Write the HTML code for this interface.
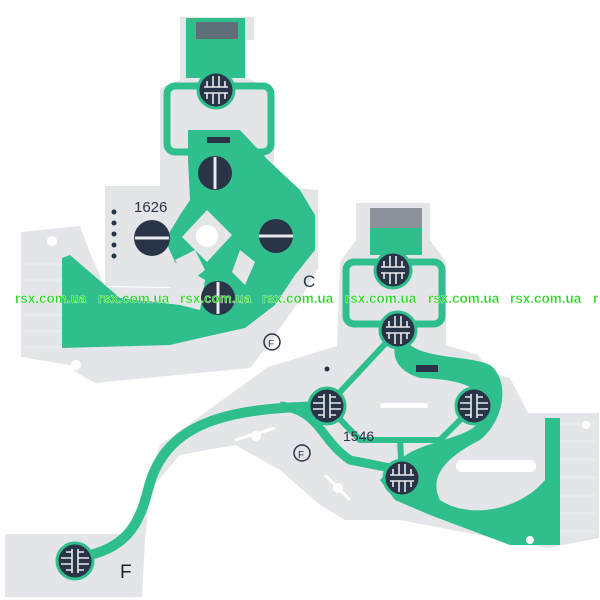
<!DOCTYPE html>
<html><head><style>
html,body{margin:0;padding:0;background:#fff;width:600px;height:600px;overflow:hidden}
svg{display:block}
</style></head><body>
<svg width="600" height="600" viewBox="0 0 600 600" xmlns="http://www.w3.org/2000/svg">
<defs>
<g id="btn"><circle r="18" fill="#2a3447"/><circle r="18" fill="none" stroke="#2fbf8d" stroke-width="3"/>
<path d="M-12,-3H12M-12,3H12M-3,-3V-14M3,-3V-14M-3,3V14M3,3V14M-9,-3V-9M9,-3V-9M-9,3V9M9,3V9" stroke="#e8eaee" stroke-width="1.6" fill="none"/></g>
<g id="btnv"><circle r="18" fill="#2a3447"/><circle r="18" fill="none" stroke="#2fbf8d" stroke-width="3"/>
<path d="M-3,-12V12M3,-12V12M-3,-3H-14M-3,3H-14M3,-3H14M3,3H14M-3,-9H-9M-3,9H-9M3,-9H9M3,9H9" stroke="#e8eaee" stroke-width="1.6" fill="none"/></g>
<g id="solid"><circle r="18" fill="#2a3447"/><circle r="18" fill="none" stroke="#2fbf8d" stroke-width="2"/></g>
</defs>
<!-- LEFT PIECE -->
<path d="M180,17 L254,17 L254,40 L246,40 L246,78 L274,90 L274,186 L318,190 L318,268 L300,300 L268,345 L250,368 L95,383 L75,372 L70,365 L21,357 L21,232 L80,226 L92,258 L105,287 L170,288 L170,287 L105,286 L105,186 L160,186 L160,88 L180,80 Z" fill="#e4e5e9"/>
<rect x="186" y="18" width="59" height="60" fill="#2fbf8d"/>
<rect x="196" y="22" width="42" height="17" fill="#5f6f7a"/>
<rect x="167" y="86" width="104" height="66" rx="8" fill="none" stroke="#2fbf8d" stroke-width="7"/>
<path d="M188,130 L240,130 L268,160 L300,190 L315,215 L315,250 L295,275 L275,305 L245,328 L200,338 L170,345 L62,348 L62,258 L70,255 L85,268 L120,298 L180,305 L200,310 L205,280 L175,262 L165,240 L180,215 L190,200 L188,160 Z" fill="#2fbf8d"/>
<path d="M207,210 L232,235 L207,262 L182,237 Z" fill="#e4e5e9"/>
<circle cx="207" cy="236" r="11" fill="#fff"/>
<path d="M175,260 L195,250 L205,270 L190,282 Z M240,250 L255,262 L245,285 L232,272 Z" fill="#e4e5e9"/>
<rect x="207" y="137" width="23" height="6" fill="#2a3447"/>
<g fill="#e8eaee"><rect x="24" y="262" width="38" height="3"/><rect x="24" y="279" width="38" height="3"/><rect x="24" y="296" width="38" height="3"/><rect x="24" y="313" width="38" height="3"/><rect x="24" y="330" width="38" height="3"/><rect x="24" y="346" width="38" height="3"/></g>
<circle cx="52" cy="241" r="5" fill="#fff"/><circle cx="76" cy="365" r="5" fill="#fff"/>
<use href="#btn" x="216" y="90"/>
<g fill="#2a3447">
<circle cx="215" cy="173" r="17"/><circle cx="152" cy="238" r="18"/><circle cx="276" cy="236" r="17"/><circle cx="218" cy="298" r="17"/>
<circle cx="114" cy="212" r="2.5"/><circle cx="114" cy="223" r="2.5"/><circle cx="114" cy="234" r="2.5"/><circle cx="114" cy="245" r="2.5"/><circle cx="114" cy="256" r="2.5"/>
</g>
<g stroke="#e8eaee" stroke-width="3"><line x1="215" y1="157" x2="215" y2="189"/><line x1="135" y1="238" x2="169" y2="238"/><line x1="259" y1="236" x2="293" y2="236"/><line x1="218" y1="282" x2="218" y2="314"/></g>
<text x="134" y="212" font-family="Liberation Sans, sans-serif" font-size="15" fill="#2a3447">1626</text>
<text x="303" y="287" font-family="Liberation Sans, sans-serif" font-size="17" fill="#2a3447">C</text>
<circle cx="272" cy="342" r="8" fill="none" stroke="#2a3447" stroke-width="1.5"/><text x="268" y="347" font-size="10" font-family="Liberation Sans, sans-serif" fill="#2a3447">F</text>
<!-- RIGHT PIECE -->
<path d="M356,203 L430,203 L430,240 L446,262 L446,345 L478,355 L490,372 L510,378 L528,413 L599,413 L599,538 L548,548 L400,520 L345,520 L320,505 L280,470 L235,445 L180,455 L150,490 L145,540 L142,597 L5,597 L5,534 L130,534 L160,445 L268,367 L337,346 L340,262 L356,240 Z" fill="#e4e5e9"/>
<rect x="370" y="208" width="52" height="22" fill="#8b9099"/>
<path d="M370,228 L422,228 L422,255 L370,255 Z" fill="#2fbf8d"/>
<rect x="346" y="262" width="96" height="62" rx="8" fill="none" stroke="#2fbf8d" stroke-width="7"/>
<path d="M90,555 C130,545 140,520 148,490 C165,420 230,408 327,406" fill="none" stroke="#2fbf8d" stroke-width="10"/>
<path d="M280,406 C320,410 320,440 350,460 L400,470" fill="none" stroke="#2fbf8d" stroke-width="9"/>
<path d="M327,406 L398,330 M327,406 L360,440 L440,440 L474,406 M400,440 L402,478" fill="none" stroke="#2fbf8d" stroke-width="6"/>
<path d="M405,340 C420,360 470,355 490,365 C510,380 505,420 480,440 C440,460 430,480 440,500 C470,520 520,510 545,480 L545,418 L560,418 L560,545 L510,545 L430,515 L395,500 L380,480 L400,460 C420,440 470,440 480,420 C490,390 470,380 420,378 C400,372 392,360 395,345 Z" fill="#2fbf8d"/>
<rect x="456" y="460" width="80" height="12" rx="6" fill="#fff"/>
<rect x="380" y="403" width="48" height="5" rx="2.5" fill="#fff"/>
<rect x="416" y="365" width="22" height="7" fill="#2a3447"/>
<g fill="#e8eaee"><rect x="560" y="422" width="35" height="3"/><rect x="560" y="440" width="35" height="3"/><rect x="560" y="458" width="35" height="3"/><rect x="560" y="476" width="35" height="3"/><rect x="560" y="494" width="35" height="3"/><rect x="560" y="512" width="35" height="3"/><rect x="560" y="530" width="35" height="3"/></g>
<circle cx="586" cy="425" r="4" fill="#fff"/><circle cx="530" cy="540" r="4" fill="#fff"/>
<path d="M235,440 L275,428 M325,475 L350,500" stroke="#fff" stroke-width="3"/><circle cx="256" cy="436" r="5" fill="#fff"/><circle cx="338" cy="488" r="5" fill="#fff"/>
<circle cx="327" cy="369" r="2.5" fill="#2a3447"/>
<use href="#btn" x="393" y="270"/>
<use href="#btn" x="398" y="330"/>
<use href="#btnv" x="327" y="406"/>
<use href="#btnv" x="474" y="406"/>
<use href="#btn" x="402" y="478"/>
<use href="#btnv" x="75" y="561"/>
<text x="343" y="441" font-family="Liberation Sans, sans-serif" font-size="14" fill="#2a3447">1546</text>
<circle cx="302" cy="453" r="8" fill="none" stroke="#2a3447" stroke-width="1.5"/><text x="298" y="458" font-size="10" font-family="Liberation Sans, sans-serif" fill="#2a3447">F</text>
<text x="120" y="578" font-family="Liberation Sans, sans-serif" font-size="19" fill="#222">F</text>
<!-- watermark -->
<g font-family="Liberation Sans, sans-serif" font-weight="bold" font-size="13.5" fill="#22d61e" stroke="#fff" stroke-width="0.3">
<text x="-8" y="303">a</text>
<text x="15" y="303">rsx.com.ua</text><text x="98" y="303">rsx.com.ua</text><text x="180" y="303">rsx.com.ua</text><text x="262" y="303">rsx.com.ua</text><text x="345" y="303">rsx.com.ua</text><text x="428" y="303">rsx.com.ua</text><text x="510" y="303">rsx.com.ua</text><text x="593" y="303">r</text>
</g>
</svg>
</body></html>
